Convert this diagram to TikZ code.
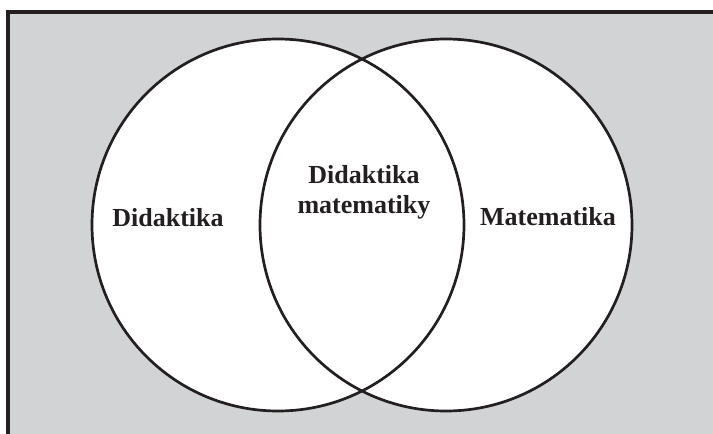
\documentclass[tikz,border=0pt]{standalone}
\usepackage{fontspec}
\setmainfont{Liberation Serif}
\usepackage{tikz}
\definecolor{paper}{HTML}{D1D3D4}
\definecolor{ink}{HTML}{231F20}
\tikzset{every node/.style={font=\fontsize{13}{15}\selectfont\bfseries, text=ink, align=center}}

\begin{document}
\begin{tikzpicture}[x=0.5pt, y=-0.5pt]
    \useasboundingbox (0, 0) rectangle (713, 434);
    \fill[paper] (8, 11.7) rectangle (713, 434);
    \draw[ink, line width=2pt] (713, 11.7) -- (8, 11.7) -- (8, 434);

    \coordinate (L) at (278, 225);
    \coordinate (P) at (446, 225);
    \fill[white] (L) circle[radius=186] (P) circle[radius=186];
    \draw[ink, line width=1.35pt] (L) circle[radius=186];
    \draw[ink, line width=1.35pt] (P) circle[radius=186];

    \node[anchor=base] at (168, 226) (didaktika) {Didaktika};
    \node[anchor=base] at (364, 213) (spolu) {Didaktika\\matematiky};
    \node[anchor=base] at (548, 225) (matematika) {Matematika};
\end{tikzpicture}
\end{document}
